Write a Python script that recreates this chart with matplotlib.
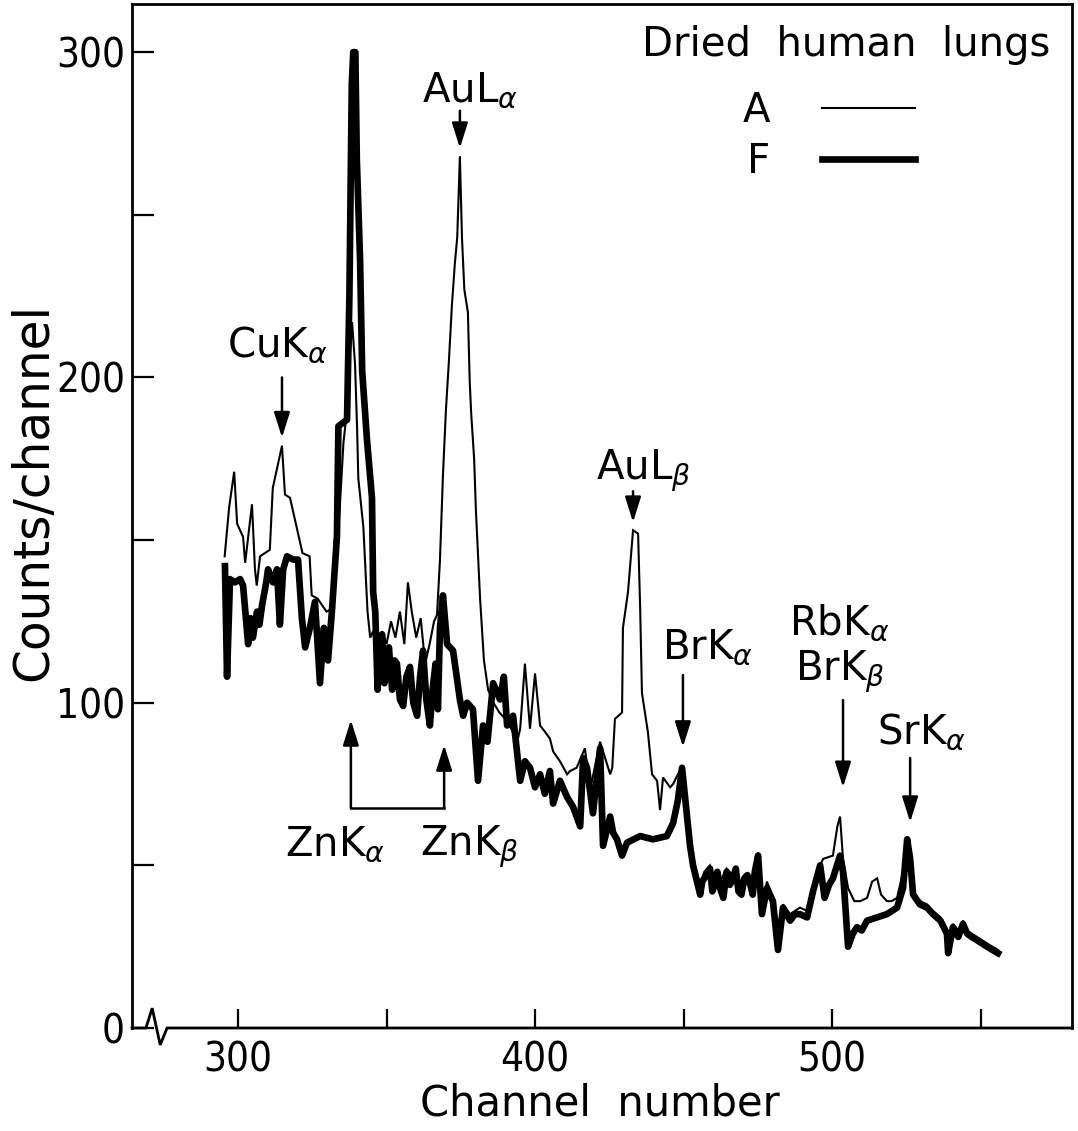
import matplotlib
matplotlib.use('Agg')
import matplotlib.pyplot as plt
from matplotlib.lines import Line2D

# ---------------- data ----------------
# Spectrum F (thick line)
F_ch = [295.6, 296.3, 297.3, 299.0, 300.7, 301.7, 303.4, 304.2, 305.0, 306.4,
        307.2, 308.1, 309.5, 310.1, 311.8, 313.1, 314.1, 315.2, 316.5, 318.5,
        320.2, 321.5, 322.6, 324.2, 325.9, 327.6, 328.9, 330.3, 331.6, 333.3,
        333.8, 336.7, 337.5, 338.3, 338.8, 339.5, 340.0, 341.1, 341.8, 343.4,
        345.1, 345.5, 346.2, 347.0, 347.8, 348.5, 349.3, 350.0, 350.8, 351.9,
        352.7, 353.5, 354.5, 355.6, 356.7, 357.9, 359.0, 360.3, 361.3, 362.3,
        363.4, 364.6, 365.5, 366.5, 367.3, 368.0, 369.0, 370.4, 372.4, 374.7,
        375.8, 377.1, 379.1, 380.8, 382.5, 384.0, 385.9, 388.2, 389.5, 390.6,
        392.6, 393.8, 395.0, 396.6, 398.3, 400.0, 401.7, 403.3, 405.0, 406.1,
        408.4, 410.8, 412.8, 415.2, 416.2, 417.5, 419.5, 421.9, 422.9, 425.3,
        426.3, 427.6, 429.3, 431.0, 435.4, 439.7, 444.4, 446.5, 448.1, 449.5,
        450.5, 452.2, 453.2, 455.6, 456.3, 457.0, 458.9, 459.7, 460.5, 461.4,
        462.3, 463.4, 464.5, 465.6, 466.7, 467.6, 468.5, 469.5, 470.5, 471.5,
        472.5, 473.3, 474.0, 475.1, 476.4, 478.1, 480.1, 481.8, 483.5, 485.9,
        487.5, 489.2, 491.6, 493.6, 496.0, 497.5, 499.0, 500.3, 502.7, 503.7,
        505.4, 507.0, 508.4, 510.0, 511.8, 515.2, 518.5, 521.9, 523.9, 525.3,
        526.3, 527.3, 529.6, 532.0, 534.0, 536.5, 538.7, 539.1, 540.7, 542.5,
        544.1, 545.5, 547.0, 548.8, 550.5, 552.2, 554.0, 555.9]
F_val = [142, 108, 138, 137, 138, 136, 118, 126, 120, 128,
         124, 130, 137, 141, 137, 141, 124, 141, 145, 144,
         144, 126, 117, 123, 131, 106, 123, 113, 128, 151,
         185, 187, 225, 290, 300, 300, 267, 236, 202, 181,
         163, 134, 128, 104, 118, 121, 106, 110, 117, 104,
         113, 112, 101, 99, 108, 111, 100, 96, 108, 116,
         101, 93, 104, 112, 98, 123, 133, 118, 116, 101,
         96, 100, 98, 76, 93, 88, 106, 101, 108, 93,
         96, 86, 76, 82, 80, 74, 78, 72, 79, 69,
         76, 71, 68, 62, 83, 80, 66, 86, 56, 65,
         60, 58, 53, 57, 59, 58, 59, 63, 70, 80,
         71, 56, 50, 41, 45, 46, 49, 42, 44, 48,
         43, 40, 48, 44, 46, 49, 42, 41, 46, 47,
         44, 41, 48, 53, 35, 43, 39, 24, 37, 33,
         35, 35, 34, 42, 50, 40, 44, 46, 53, 48,
         25, 29, 31, 30, 33, 34, 35, 37, 43, 58,
         52, 41, 38, 37, 35, 33, 29, 23, 31, 28,
         32, 29, 28, 27, 26, 25, 24, 23]

# Spectrum A (thin line)
A_ch = [295.5, 297.0, 298.7, 299.7, 301.7, 302.4, 304.7, 305.7, 306.3, 307.4,
        310.7, 311.7, 314.8, 315.8, 317.5, 320.7, 321.7, 324.1, 324.8, 326.8,
        329.8, 331.8, 332.5, 333.7, 335.5, 336.7, 337.5, 338.4, 339.4, 340.1,
        340.5, 342.2, 343.6, 344.5, 345.5, 347.0, 348.5, 350.0, 351.5, 353.0,
        354.5, 356.0, 357.2, 358.5, 360.0, 361.5, 363.0, 364.5, 366.0, 367.0,
        368.0, 369.0, 370.0, 371.0, 372.0, 373.0, 373.8, 374.7, 375.4, 376.2,
        377.4, 378.0, 378.5, 379.5, 380.1, 381.5, 382.8, 384.2, 386.0, 388.0,
        390.0, 392.0, 394.0, 395.0, 396.6, 398.3, 400.0, 401.7, 403.4, 405.0,
        406.1, 408.4, 410.8, 411.8, 414.0, 416.8, 418.5, 421.9, 425.3, 426.0,
        426.9, 429.3, 429.6, 431.3, 433.0, 434.7, 435.4, 436.0, 438.0, 439.4,
        441.1, 442.1, 443.1, 445.5, 446.5, 448.1, 449.5, 450.5, 452.2, 453.2,
        455.6, 457.0, 458.9, 460.5, 462.3, 464.5, 466.7, 468.5, 470.5, 472.5,
        474.0, 475.1, 476.4, 478.1, 480.1, 481.8, 483.5, 485.9, 487.5, 489.2,
        491.6, 493.6, 495.0, 497.0, 500.3, 501.8, 502.7, 503.7, 505.4, 507.5,
        509.5, 511.8, 513.5, 515.2, 516.5, 518.5, 520.0, 521.9, 523.9, 525.3,
        526.3, 527.3, 529.6, 532.0, 534.0, 536.5, 538.7, 539.1, 540.7, 542.5,
        544.1, 545.5, 547.0, 548.8, 550.5, 552.2, 554.0, 555.9]
A_val = [145, 160, 171, 155, 151, 143, 161, 141, 136, 145,
         147, 166, 179, 164, 163, 150, 146, 145, 133, 132,
         128, 129, 150, 151, 180, 190, 205, 217, 204, 184,
         169, 154, 128, 120, 122, 113, 122, 118, 125, 120,
         128, 118, 137, 128, 120, 126, 112, 118, 125, 127,
         144, 170, 190, 205, 222, 235, 243, 268, 243, 227,
         220, 199, 189, 175, 159, 132, 113, 104, 100, 97,
         95, 92, 88, 92, 112, 92, 109, 93, 91, 89,
         85, 82, 78, 79, 80, 86, 73, 88, 78, 80,
         95, 97, 123, 134, 153, 152, 129, 103, 91, 78,
         76, 67, 77, 74, 75, 78, 80, 72, 58, 52,
         44, 48, 50, 46, 45, 49, 47, 44, 47, 45,
         49, 54, 38, 45, 40, 27, 38, 35, 36, 37,
         36, 44, 48, 52, 53, 62, 65, 52, 43, 39,
         39, 40, 45, 46, 41, 39, 39, 40, 48, 58,
         52, 42, 39, 38, 36, 34, 30, 25, 32, 30,
         33, 30, 29, 28, 27, 26, 25, 24]

x_major = [300, 400, 500]
x_minor = [350, 450, 550]
y_major = [0, 100, 200, 300]
y_minor = [50, 150, 250]
series_labels = ['A', 'F']
legend_title = 'Dried  human  lungs'

# ---------------- style ----------------
plt.rcParams['font.family'] = ['DejaVu Sans']
plt.rcParams['mathtext.fontset'] = 'dejavusans'
FS = 29

fig = plt.figure(figsize=(10.78, 11.31), dpi=100)
ax = fig.add_axes([132 / 1078, 1 - 1028 / 1131, 940 / 1078, 1024 / 1131])

ax.plot(A_ch, A_val, color='black', lw=1.5, solid_joinstyle='miter')
ax.plot(F_ch, F_val, color='black', lw=4.8, solid_joinstyle='round')

ax.set_xlim(264.3, 580.8)
ax.set_ylim(0, 314.8)

for s in ['left', 'top', 'right']:
    ax.spines[s].set_linewidth(2)
ax.spines['bottom'].set_visible(False)

# bottom axis line with a break symbol near the origin
xl = ax.get_xlim()
ax.plot([xl[0], 269.0, 271.1, 273.8, 276.1, xl[1]], [0, 0, 6.1, -5.2, 0, 0],
        color='black', lw=2, clip_on=False, solid_joinstyle='miter')

ax.set_xticks(x_major)
ax.set_xticks(x_minor, minor=True)
ax.set_yticks(y_major)
ax.set_yticks(y_minor, minor=True)
ax.tick_params(which='both', direction='in', width=1.6, labelsize=FS,
               top=False, right=False)
ax.tick_params(axis='y', which='both', length=16, pad=5)
ax.tick_params(axis='x', which='both', length=14, pad=9)
for t in ax.get_xticklabels() + ax.get_yticklabels():
    t.set_fontstretch('condensed')

fig.text(33 / 1078, 1 - 492 / 1131, 'Counts/channel', rotation=90,
         ha='center', va='center', fontsize=35)
fig.text(600 / 1078, 1 - 1104 / 1131, 'Channel  number',
         ha='center', va='center', fontsize=30)

# ---------------- annotations ----------------
arrow_kw = dict(arrowstyle='-|>,head_length=0.7,head_width=0.22', lw=1.8,
                color='black', shrinkA=0, shrinkB=0, mutation_scale=22)


def arrow(x, y0, y1):
    ax.annotate('', xy=(x, y1), xytext=(x, y0), arrowprops=arrow_kw)


def label(x, y, s):
    ax.text(x, y, s, ha='center', va='baseline', fontsize=FS)


label(313.1, 206.6, r'CuK$_{\alpha}$')
arrow(314.8, 200, 181.5)

label(378.0, 285.0, r'AuL$_{\alpha}$')
arrow(374.7, 282, 270.5)

label(436.4, 168.5, r'AuL$_{\beta}$')
arrow(433.0, 165, 155.5)

label(458.2, 113.5, r'BrK$_{\alpha}$')
arrow(449.8, 108.5, 86.4)

label(502.4, 121.0, r'RbK$_{\alpha}$')
label(502.8, 107.0, r'BrK$_{\beta}$')
arrow(503.7, 100.8, 74.0)

label(530.0, 87.6, r'SrK$_{\alpha}$')
arrow(526.3, 83.0, 63.3)

label(332.7, 53.0, r'ZnK$_{\alpha}$')
label(377.8, 53.0, r'ZnK$_{\beta}$')
ax.plot([338.0, 369.4], [67.6, 67.6], color='black', lw=1.8)
arrow(338.0, 67.6, 94.7)
arrow(369.4, 67.6, 87.0)

# ---------------- legend ----------------
ax.text((1050 - 132) / 940, (1028 - 45) / 1024, legend_title,
        transform=ax.transAxes, ha='right', va='center', fontsize=FS)
handles = [Line2D([], [], color='black', lw=1.5),
           Line2D([], [], color='black', lw=4.8)]
ax.legend(handles, series_labels, markerfirst=False, frameon=False,
          loc='upper right', bbox_to_anchor=((915 - 132) / 940, (1028 - 91) / 1024),
          borderaxespad=0, borderpad=0, fontsize=FS,
          handlelength=2.3, handletextpad=1.3, labelspacing=0.28)

fig.savefig('out.png', dpi=100)
